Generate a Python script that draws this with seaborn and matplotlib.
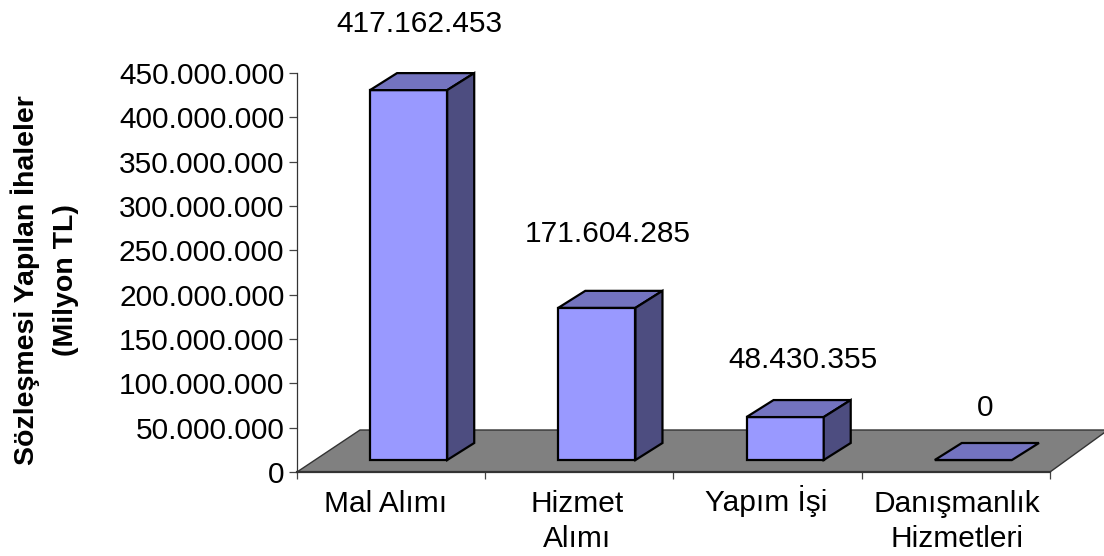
import matplotlib
matplotlib.use("Agg")
import matplotlib.pyplot as plt
from matplotlib.patches import Polygon
from matplotlib.ticker import FuncFormatter
from matplotlib.transforms import Affine2D
import seaborn as sns

categories = ["Mal Alımı", "Hizmet\nAlımı", "Yapım İşi", "Danışmanlık\nHizmetleri"]
values = [417162453, 171604285, 48430355, 0]
value_labels = ["417.162.453", "171.604.285", "48.430.355", "0"]
ylabel_text = "Sözleşmesi Yapılan İhaleler\n(Milyon TL)"

FRONT = "#9999FF"
TOP = "#7373BF"
SIDE = "#4D4D80"
FLOOR = "#808080"
W, H = 1104, 556
LEFT, RIGHT, TOP_Y, BOTTOM_Y = 297, 1050, 73, 472
YMAX = 450000000
BASE_PX = 12
DX_PX, DY_PX = 27, 17
SHIFT_PX = 17.5
LABEL_DX = [49, 49, 56, 50]
LABEL_DY = [66, 74, 57, 52]
FS = 21.5

plt.rcParams["font.family"] = ["Liberation Sans", "DejaVu Sans"]
sns.set_style("white")
plt.rcParams["font.family"] = ["Liberation Sans", "DejaVu Sans"]
fig = plt.figure(figsize=(W / 100, H / 100), dpi=100)
ax = fig.add_axes([LEFT / W, 1 - BOTTOM_Y / H, (RIGHT - LEFT) / W, (BOTTOM_Y - TOP_Y) / H])

px_x = 4 / (RIGHT - LEFT)
px_y = YMAX / (BOTTOM_Y - TOP_Y)
base = BASE_PX * px_y
sns.barplot(x=list(range(4)), y=values, ax=ax, color=FRONT, saturation=1, width=0.41,
            bottom=base, edgecolor="black", linewidth=1.6, zorder=4)
ax.set_xlim(-0.5, 3.5)
ax.set_ylim(0, YMAX)

# floor
floor = [(-0.5, 0), (-0.5 + 63 * px_x, 42 * px_y), (3.5 + 58 * px_x, 42 * px_y), (3.5, 0)]
ax.add_patch(Polygon(floor, closed=True, fc=FLOOR, ec="#333333", lw=1.0, zorder=1, clip_on=False))

# pseudo-3D faces
dx, dy = DX_PX * px_x, DY_PX * px_y
shift = SHIFT_PX * px_x
for i, p in enumerate(ax.patches[:4]):
    p.set_x(p.get_x() + shift)
    x0, x1 = p.get_x(), p.get_x() + p.get_width()
    b, t = base, base + values[i]
    ax.add_patch(Polygon([(x0, t), (x0 + dx, t + dy), (x1 + dx, t + dy), (x1, t)], closed=True,
                         fc=TOP, ec="black", lw=1.6, zorder=5, clip_on=False))
    if values[i] > 0:
        ax.add_patch(Polygon([(x1, b), (x1 + dx, b + dy), (x1 + dx, t + dy), (x1, t)], closed=True,
                             fc=SIDE, ec="black", lw=1.6, zorder=5, clip_on=False))
    ax.annotate(value_labels[i], (x0, t), xytext=(LABEL_DX[i] + 0.41 / px_x / 2 - 38, LABEL_DY[i]),
                textcoords="offset pixels", ha="center", va="center", fontsize=FS,
                color="black", annotation_clip=False)

for s in ("top", "right"):
    ax.spines[s].set_visible(False)
ax.spines["left"].set_linewidth(0.9)
ax.spines["left"].set_color("#333333")
ax.spines["bottom"].set_linewidth(1.6)
ax.spines["bottom"].set_color("#333333")
ax.spines["bottom"].set_zorder(3)

ax.set_yticks(range(0, YMAX + 1, 50000000))
ax.yaxis.set_major_formatter(FuncFormatter(lambda v, _: f"{int(v):,}".replace(",", ".")))
ax.tick_params(axis="y", length=6, width=0.9, color="#444444", labelsize=FS, labelcolor="black",
               pad=3, left=True)
ax.set_xticks([-0.5, 0.5, 1.5, 2.5, 3.5])
ax.set_xticklabels([])
ax.tick_params(axis="x", which="major", length=5, width=0.9, color="#444444", bottom=True)
ax.set_xticks([-0.027, 0.988, 1.992, 3.006], minor=True)
ax.set_xticklabels(categories, minor=True, fontsize=FS, linespacing=1.32, va="top", color="black")
ax.tick_params(axis="x", which="minor", length=0, pad=13)
# "İ" has a taller top than the other first lines, so lift that label back to their baseline
lab = ax.get_xticklabels(minor=True)[2]
lab.set_transform(lab.get_transform() + Affine2D().translate(0, 5))

fig.text(45 / W, 1 - 280 / H, ylabel_text, rotation=90, ha="center", va="center",
         fontsize=20.5, fontweight="bold", linespacing=1.65, color="black")
fig.savefig("out.png", dpi=100, facecolor="white")
